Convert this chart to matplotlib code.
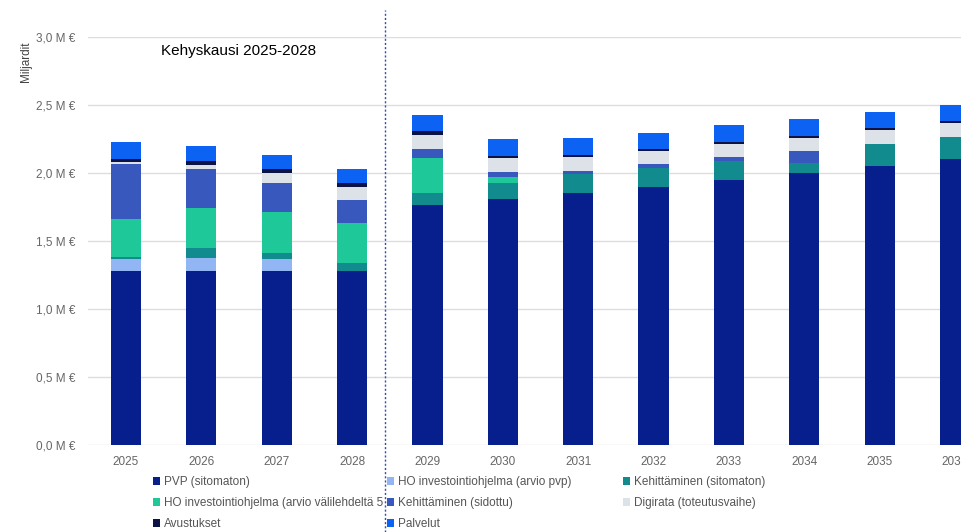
import matplotlib
matplotlib.use("Agg")
import matplotlib.pyplot as plt
import numpy as np
from matplotlib.ticker import FuncFormatter, MultipleLocator

# Values (miljardia euroa)
years = [2025, 2026, 2027, 2028, 2029, 2030, 2031, 2032, 2033, 2034, 2035, 2036]
pvp = [1.28, 1.28, 1.28, 1.28, 1.765, 1.81, 1.85, 1.90, 1.95, 2.00, 2.05, 2.10]
ho_pvp = [0.09, 0.095, 0.09, 0, 0, 0, 0, 0, 0, 0, 0, 0]
keh_sitomaton = [0.01, 0.077, 0.045, 0.06, 0.09, 0.12, 0.14, 0.135, 0.14, 0.07, 0.165, 0.165]
ho_vali = [0.28, 0.29, 0.295, 0.295, 0.255, 0.04, 0, 0, 0, 0, 0, 0]
keh_sidottu = [0.405, 0.29, 0.22, 0.165, 0.07, 0.04, 0.025, 0.03, 0.025, 0.09, 0, 0]
digirata = [0.015, 0.03, 0.07, 0.10, 0.10, 0.10, 0.10, 0.10, 0.10, 0.10, 0.10, 0.10]
avustukset = [0.02, 0.024, 0.03, 0.03, 0.03, 0.017, 0.02, 0.012, 0.015, 0.015, 0.013, 0.015]
palvelut = [0.13, 0.113, 0.105, 0.10, 0.12, 0.123, 0.12, 0.12, 0.12, 0.12, 0.12, 0.12]

series = [
    ("PVP (sitomaton)", pvp, "#071f8c"),
    ("HO investointiohjelma (arvio pvp)", ho_pvp, "#92b6f4"),
    ("Kehittäminen (sitomaton)", keh_sitomaton, "#118b8d"),
    ("HO investointiohjelma (arvio välilehdeltä 5", ho_vali, "#1fc898"),
    ("Kehittäminen (sidottu)", keh_sidottu, "#3858bd"),
    ("Digirata (toteutusvaihe)", digirata, "#dde2e8"),
    ("Avustukset", avustukset, "#0b1244"),
    ("Palvelut", palvelut, "#0c62f2"),
]

plt.rcParams["font.family"] = ["Liberation Sans", "DejaVu Sans"]

fig = plt.figure(figsize=(9.61, 5.32), dpi=100)
ax = fig.add_axes([88 / 961, 87 / 532, 1 - 88 / 961, 408 / 532])

x = np.arange(len(years))
bottom = np.zeros(len(years))
handles = []
for label, vals, color in series:
    b = ax.bar(x, vals, 0.4, bottom=bottom, color=color, label=label, zorder=3)
    handles.append(b)
    bottom += np.array(vals)

ax.set_xlim(-0.504, 11.08)
ax.set_ylim(0, 3.0)
ax.yaxis.set_major_locator(MultipleLocator(0.5))
ax.yaxis.set_major_formatter(FuncFormatter(lambda v, p: f"{v:.1f}".replace(".", ",") + " M €"))
ax.set_xticks(x)
ax.set_xticklabels([str(y) for y in years])
ax.tick_params(axis="both", length=0, colors="#666666", labelsize=8.5)
ax.tick_params(axis="y", pad=9)
ax.tick_params(axis="x", pad=8)
ax.grid(axis="y", color="#dddddd", linewidth=1, zorder=0)
for s in ax.spines.values():
    s.set_visible(False)

# Kehyskauden raja
ax.axvline(3.434, ymin=-0.213, ymax=1.066, color="#3050b0", linestyle=(0, (1.5, 1.5)),
           linewidth=1, clip_on=False, zorder=4)
ax.text(1.5, 2.9, "Kehyskausi 2025-2028", ha="center", va="center", fontsize=11, color="black")

fig.text(26 / 961, 1 - 41 / 532, "Miljardit", rotation=90, ha="center", va="top",
         fontsize=8.5, color="#444444")

# legend: three columns, filled row by row
columns = [[0, 3, 6], [1, 4, 7], [2, 5]]
col_x = [153, 387, 623]
for idx, cx in zip(columns, col_x):
    leg = fig.legend([handles[i] for i in idx], [series[i][0] for i in idx],
                     loc="upper left", bbox_to_anchor=(cx / 961, 1 - 476 / 532), ncol=1,
                     frameon=False, fontsize=8.5, handlelength=0.6, handleheight=0.6,
                     handletextpad=0.3, labelspacing=0.76, labelcolor="#555555",
                     borderaxespad=0, borderpad=0)

fig.savefig("out.png", dpi=100)
